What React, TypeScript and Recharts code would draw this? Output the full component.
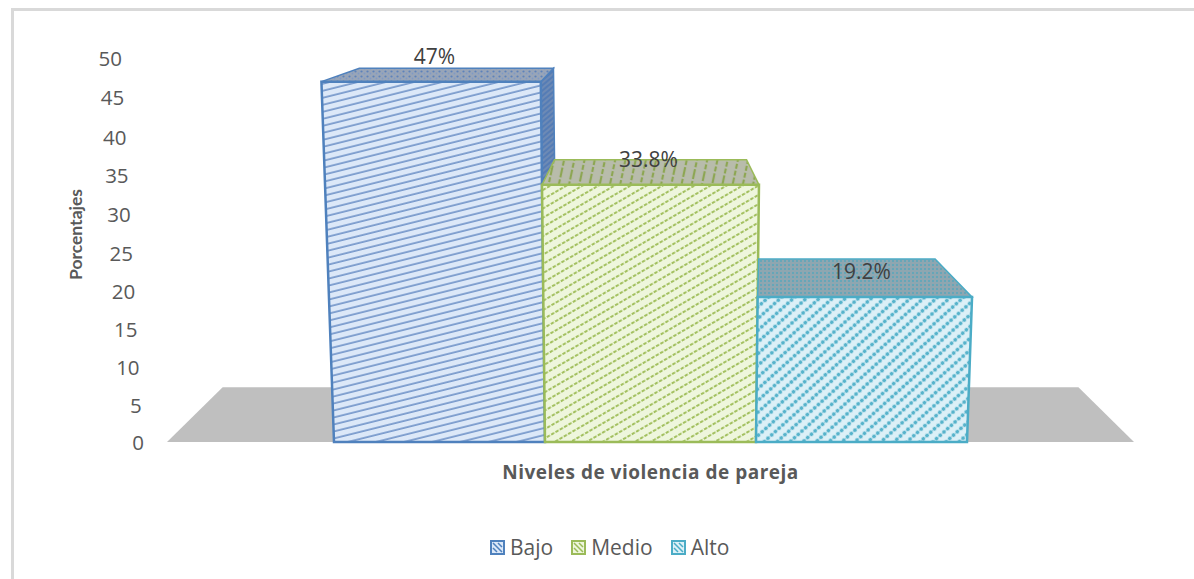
import { BarChart, Bar, XAxis, YAxis, Legend, LabelList, ReferenceArea } from "recharts";

const categories = ["Niveles de violencia de pareja"];
const seriesNames = ["Bajo", "Medio", "Alto"];
const seriesValues = [47, 33.8, 19.2];
const labelTexts = ["47%", "33.8%", "19.2%"];
const yTicks = [0, 5, 10, 15, 20, 25, 30, 35, 40, 45, 50];

const strokes = ["#4f81bd", "#9bbb59", "#4bacc6"];
const paper = ["#dce8f8", "#eef6dc", "#dcf0f7"];
const labelShift = [-5, -2, 0];

const data = categories.map((name) => {
  const row: Record<string, string | number> = { name };
  seriesNames.forEach((s, i) => (row[s] = seriesValues[i]));
  return row;
});

// the picture is a 3D column chart: everything leans towards one vanishing point
const VANISH_X = 651;
const VANISH_Y = -34;
const DEPTH = 0.115;
const FLARE = 0.00011;
const TICK_LEAN = 0.44;

const toBack = (x: number, y: number) => [x + (VANISH_X - x) * DEPTH, y + (VANISH_Y - y) * DEPTH];
const flare = (x: number, h: number) => VANISH_X + (x - VANISH_X) * (1 + FLARE * h);
const pts = (list: number[][]) => list.map((p) => p.join(",")).join(" ");

// vertical axis is slightly stretched towards the top, same as the foreshortened original
function stretchedScale(initDomain = [0, 50], initRange = [0, 1]) {
  let dom = initDomain;
  let rng = initRange;
  const s: any = (v: number) => {
    const t = (v - dom[0]) / (dom[1] - dom[0]);
    return rng[0] + (rng[1] - rng[0]) * (0.9717 * t + 0.0283 * t * t);
  };
  s.domain = (d?: number[]) => {
    if (!d) return dom;
    dom = d;
    return s;
  };
  s.range = (r?: number[]) => {
    if (!r) return rng;
    rng = r;
    return s;
  };
  s.ticks = () => yTicks;
  s.bandwidth = () => 0;
  s.copy = () => stretchedScale(dom, rng);
  return s;
}

function Box(props: any) {
  const { x, y, width, height, index, dataKey } = props;
  const i = seriesNames.indexOf(dataKey);
  const base = y + height;
  const tl = [flare(x, height), y];
  const tr = [flare(x + width, height), y];
  const bl = [x, base];
  const br = [x + width, base];
  const btl = toBack(tl[0], tl[1]);
  const btr = toBack(tr[0], tr[1]);
  const bbr = toBack(br[0], br[1]);
  // the top of a box never pokes out left past its own front edge
  const backLeft = [Math.max(btl[0], tl[0] + 1), btl[1]];
  const stroke = strokes[i];
  return (
    <g key={index}>
      {btr[0] > tr[0] && (
        <polygon points={pts([tr, btr, bbr, br])} fill={`url(#side${i})`} stroke={stroke} strokeWidth={1.5} />
      )}
      <polygon points={pts([tl, backLeft, btr, tr])} fill={`url(#top${i})`} stroke={stroke} strokeWidth={1.5} />
      <polygon points={pts([tl, tr, br, bl])} fill={`url(#front${i})`} stroke={stroke} strokeWidth={2.5} />
    </g>
  );
}

function Floor(props: any) {
  const { x, y, width } = props;
  const left = [x, y];
  const right = [x + width, y];
  return <polygon points={pts([left, toBack(left[0], left[1]), toBack(right[0], right[1]), right])} fill="#bfbfbf" />;
}

function LeanTick(props: any) {
  const { x, y, payload } = props;
  return (
    <text x={x - payload.value * TICK_LEAN} y={y} dy={8} textAnchor="end" fontSize={20.5} fill="#595959">
      {payload.value}
    </text>
  );
}

function LegendRow(props: any) {
  return (
    <div style={{ display: "flex", alignItems: "center", fontSize: 21, color: "#595959", lineHeight: "24px" }}>
      {(props.payload ?? []).map((item: any, i: number) => (
        <div key={item.value} style={{ display: "flex", alignItems: "center", marginRight: 18 }}>
          <svg width={15} height={15} style={{ marginRight: 5 }}>
            <rect x={1} y={1} width={13} height={13} fill={paper[i]} stroke={strokes[i]} strokeWidth={2} />
            <path d="M3 3 L12 12 M3 8 L7 12 M8 3 L12 7" stroke={strokes[i]} strokeWidth={1.5} />
          </svg>
          {item.value}
        </div>
      ))}
    </div>
  );
}

export default function App() {
  return (
    <div style={{ position: "relative", width: 1194, height: 579, overflow: "hidden", fontFamily: "'Open Sans', sans-serif" }}>
      <style>{"body{margin:0;background:#fff}"}</style>
      <div
        style={{
          position: "absolute",
          left: 11,
          top: 8,
          right: -10,
          bottom: -10,
          borderLeft: "3px solid #d9d9d9",
          borderTop: "3px solid #d9d9d9",
        }}
      />
      <div style={{ position: "absolute", left: 0, top: 0 }}>
        <BarChart
          width={1194}
          height={579}
          data={data}
          margin={{ top: 58, right: 60, bottom: 20, left: 0 }}
          barCategoryGap={167}
          barGap={0}
        >
          <defs>
            <pattern id="front0" width={20} height={6.8} patternUnits="userSpaceOnUse" patternTransform="rotate(-14)">
              <rect width={20} height={6.8} fill={paper[0]} />
              <line x1={0} x2={20} y1={3} y2={3} stroke="#6f92c8" strokeWidth={1.6} />
            </pattern>
            <pattern id="front1" width={20} height={8} patternUnits="userSpaceOnUse" patternTransform="rotate(-30)">
              <rect width={20} height={8} fill={paper[1]} />
              <line x1={0} x2={20} y1={4} y2={4} stroke="#a3c060" strokeWidth={2.2} strokeDasharray="3.5 1.5" />
            </pattern>
            <pattern id="front2" width={5} height={8.7} patternUnits="userSpaceOnUse" patternTransform="rotate(-42)">
              <rect width={5} height={8.7} fill={paper[2]} />
              <circle cx={2.5} cy={4.3} r={2} fill="#57b3cb" />
            </pattern>
            <pattern id="top0" width={6} height={5} patternUnits="userSpaceOnUse">
              <rect width={6} height={5} fill="#98a5b8" />
              <circle cx={1.5} cy={1.5} r={1.1} fill="#5d82bb" />
              <circle cx={4.5} cy={3.5} r={0.9} fill="#7f9ac6" />
            </pattern>
            <pattern id="top1" width={10} height={26} patternUnits="userSpaceOnUse" patternTransform="rotate(12)">
              <rect width={10} height={26} fill="#b8bcab" />
              <line x1={5} x2={5} y1={0} y2={26} stroke="#8da653" strokeWidth={2.2} strokeDasharray="5 2" />
            </pattern>
            <pattern id="top2" width={4} height={4} patternUnits="userSpaceOnUse">
              <rect width={4} height={4} fill="#8fa6b0" />
              <circle cx={1} cy={1} r={0.9} fill="#52a6bd" />
            </pattern>
            <pattern id="side0" width={4} height={4} patternUnits="userSpaceOnUse" patternTransform="rotate(-40)">
              <rect width={4} height={4} fill="#6d8ab5" />
              <line x1={0} x2={4} y1={2} y2={2} stroke="#4f78b5" strokeWidth={1.6} />
            </pattern>
          </defs>
          <ReferenceArea y1={0} y2={0} shape={Floor} ifOverflow="visible" />
          <XAxis
            dataKey="name"
            height={93}
            axisLine={false}
            tickLine={false}
            tickMargin={18}
            tick={{ fontSize: 19, fontWeight: 700, fill: "#595959", letterSpacing: 0.5 }}
          />
          <YAxis
            width={167}
            domain={[0, 50]}
            ticks={yTicks}
            scale={stretchedScale()}
            axisLine={false}
            tickLine={false}
            tick={<LeanTick />}
            tickMargin={17}
            interval={0}
            label={{
              value: "Porcentajes",
              angle: -90,
              position: "insideLeft",
              dx: 71,
              dy: 30,
              fontSize: 17.5,
              fontWeight: 700,
              fontFamily: "Lato, sans-serif",
              fill: "#595959",
            }}
          />
          <Legend
            height={24}
            itemSorter={null}
            content={<LegendRow />}
            wrapperStyle={{ left: 490, width: 300 }}
          />
          {seriesNames.map((s, i) => (
            <Bar key={s} dataKey={s} fill={strokes[i]} shape={<Box dataKey={s} />} isAnimationActive={false}>
              <LabelList
                dataKey={s}
                position="top"
                offset={18}
                dx={labelShift[i]}
                formatter={() => labelTexts[i]}
                fontSize={21}
                fill="#404040"
              />
            </Bar>
          ))}
        </BarChart>
      </div>
    </div>
  );
}
